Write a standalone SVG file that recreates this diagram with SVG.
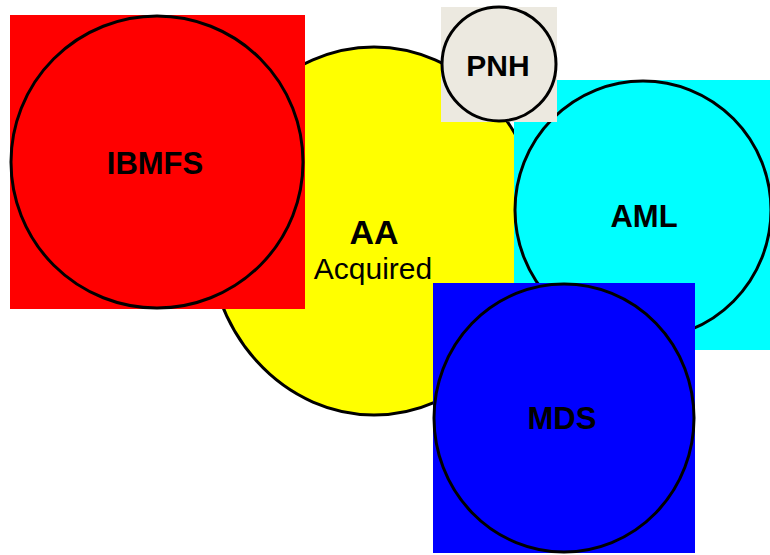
<svg xmlns="http://www.w3.org/2000/svg" width="770" height="555" viewBox="0 0 770 555">
<style>
.c{stroke:#000;stroke-width:3}
.b{font-family:"Liberation Sans",Arial,sans-serif;font-weight:bold;text-anchor:middle;fill:#000}
.r{font-family:"Liberation Sans",Arial,sans-serif;text-anchor:middle;fill:#000}
</style>
<rect width="770" height="555" fill="#fff"/>
<g id="AA">
<ellipse class="c" cx="374" cy="231" rx="166" ry="184" fill="#ffff00"/>
<text class="b" x="374" y="244" font-size="34">AA</text>
<text class="r" x="373" y="279" font-size="30">Acquired</text>
</g>
<g id="IBMFS">
<rect x="10" y="15" width="295" height="294" fill="#ff0000"/>
<circle class="c" cx="157" cy="162" r="146" fill="#ff0000"/>
<text class="b" x="155" y="174" font-size="31">IBMFS</text>
</g>
<g id="AML">
<rect x="514" y="80" width="256" height="270" fill="#00ffff"/>
<ellipse class="c" cx="643" cy="210" rx="128" ry="129" fill="#00ffff"/>
<text class="b" x="644" y="227" font-size="31">AML</text>
</g>
<g id="PNH">
<rect x="441" y="7" width="116" height="115" fill="#ece9e0"/>
<circle class="c" cx="499" cy="64" r="57" fill="#ece9e0"/>
<text class="b" x="498" y="76" font-size="30">PNH</text>
</g>
<g id="MDS">
<rect x="433" y="283" width="262" height="270" fill="#0000ff"/>
<ellipse class="c" cx="564" cy="418" rx="130" ry="134" fill="#0000ff"/>
<text class="b" x="562" y="429" font-size="31">MDS</text>
</g>
<g id="connectors"/>
</svg>
